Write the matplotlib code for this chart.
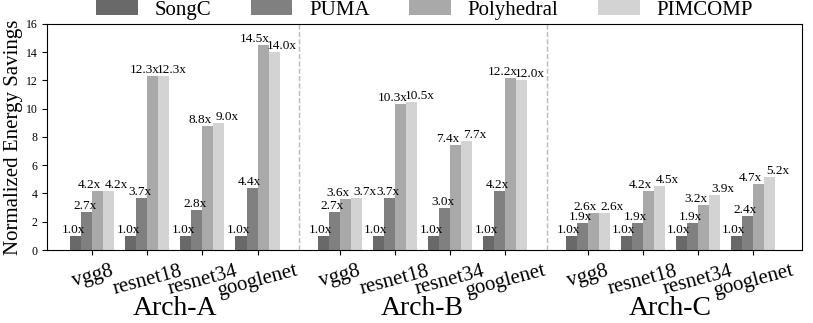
import numpy as np
import matplotlib
matplotlib.use('Agg')
import matplotlib.pyplot as plt

plt.rcParams['font.family'] = ['Liberation Serif', 'DejaVu Serif']

archs = ['Arch-A', 'Arch-B', 'Arch-C']
networks = ['vgg8', 'resnet18', 'resnet34', 'googlenet']
methods = ['SongC', 'PUMA', 'Polyhedral', 'PIMCOMP']
colors = ['#696969', '#808080', '#a9a9a9', '#d3d3d3']

# savings per arch, rows = networks, cols = methods
arch_a = [[1.0, 2.7, 4.2, 4.2],
          [1.0, 3.7, 12.3, 12.3],
          [1.0, 2.8, 8.8, 9.0],
          [1.0, 4.4, 14.5, 14.0]]
arch_b = [[1.0, 2.7, 3.6, 3.7],
          [1.0, 3.7, 10.3, 10.5],
          [1.0, 3.0, 7.4, 7.7],
          [1.0, 4.2, 12.2, 12.0]]
arch_c = [[1.0, 1.9, 2.6, 2.6],
          [1.0, 1.9, 4.2, 4.5],
          [1.0, 1.9, 3.2, 3.9],
          [1.0, 2.4, 4.7, 5.2]]
data = np.array([arch_a, arch_b, arch_c])

fig = plt.figure(figsize=(8.13, 3.23), dpi=100)
ax = fig.add_axes([0.058, 0.226, 0.928, 0.70])

width = 0.2
gap = 1.5
label_shift = [-0.05, -0.04, -0.145, 0.145]

xticks = []
xlabels = []
centers = []
for a in range(len(archs)):
    base = a * (len(networks) - 1 + gap)
    x = base + np.arange(len(networks))
    xticks.extend(x)
    xlabels.extend(networks)
    centers.append(x.mean())
    for m in range(len(methods)):
        xs = x + (m - 1.5) * width
        vals = data[a, :, m]
        ax.bar(xs, vals, width, color=colors[m],
               label=methods[m] if a == 0 else None)
        for xi, v in zip(xs, vals):
            ax.text(xi + label_shift[m], v, f'{v:.1f}x', ha='center', va='bottom',
                    fontsize=9.5)
    if a < len(archs) - 1:
        ax.axvline(base + len(networks) - 1 + gap / 2, color='#bbbbbb',
                   linestyle='--', linewidth=1)

ax.set_xlim(-0.82, 12.88)
ax.set_ylim(0, 16)
ax.set_yticks(range(0, 17, 2))
ax.tick_params(axis='y', labelsize=8.5)
ax.set_xticks(xticks)
ax.set_xticklabels(xlabels, rotation=15, fontsize=15)
ax.tick_params(axis='x', pad=5)
ax.set_ylabel('Normalized Energy Savings', fontsize=15, labelpad=2)

for c, name in zip(centers, archs):
    ax.text(c, -0.315, name, transform=ax.get_xaxis_transform(), ha='center',
            va='bottom', fontsize=20)

ax.legend(loc='upper center', bbox_to_anchor=(0.522, 1.005), bbox_transform=fig.transFigure,
          ncol=4, frameon=False, fontsize=15, handlelength=2.0, handleheight=0.7,
          handletextpad=0.8, columnspacing=1.9, borderaxespad=0, borderpad=0.1)

fig.savefig('out.png', dpi=100)
